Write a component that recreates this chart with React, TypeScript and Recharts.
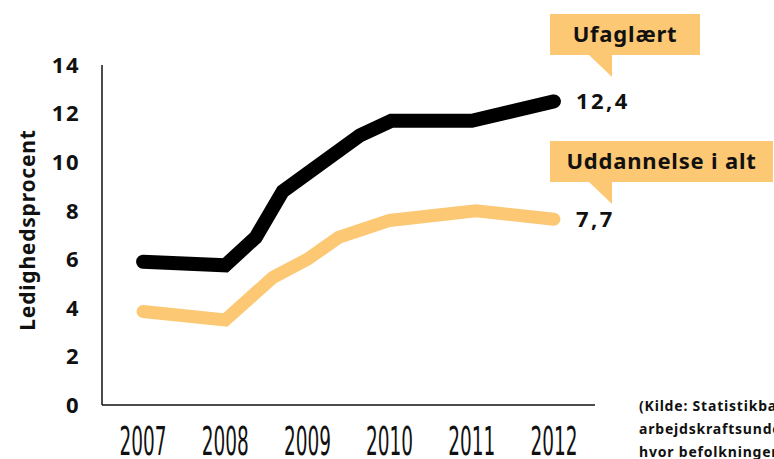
import { CartesianGrid, Customized, Line, LineChart, XAxis, YAxis } from "recharts";

// år (med brøkdele, som aflæst) og ledighedsprocent
const yearTicks = [2007, 2008, 2009, 2010, 2011, 2012];
const yTicks = [0, 2, 4, 6, 8, 10, 12, 14];

const ufaglaertX = [2007, 2008, 2008.37, 2008.7, 2009.64, 2010.02, 2011, 2012];
const ufaglaertY = [5.9, 5.75, 6.9, 8.8, 11.1, 11.7, 11.7, 12.5];

const altX = [2007, 2008, 2008.58, 2009, 2009.38, 2010, 2011.05, 2012];
const altY = [3.85, 3.5, 5.25, 6.0, 6.9, 7.6, 8.0, 7.65];

const ufaglaertLast = "12,4";
const altLast = "7,7";
const sourceLines = [
  "(Kilde: Statistikbanken,",
  "arbejdskraftsundersøgelsen,",
  "hvor befolkningen er 25-64 år)",
];

const ORANGE = "#FCC873";
const FONT = "'Noto Sans', sans-serif";

const toRows = (xs: number[], ys: number[]) => xs.map((x, i) => ({ x, y: ys[i] }));
const ufaglaert = toRows(ufaglaertX, ufaglaertY);
const alt = toRows(altX, altY);

// smal, høj årstalsskrift: strækkes lodret
const YearTick = ({ x, y, payload }: any) => (
  <g transform={`translate(${x},${y + 42}) scale(1,1.5)`}>
    <text
      x={0}
      y={0}
      textAnchor="middle"
      fontFamily="'Liberation Sans Narrow', 'DejaVu Sans Condensed', sans-serif"
      fontSize={26}
      textLength={47}
      lengthAdjust="spacingAndGlyphs"
      fill="#111"
    >
      {payload.value}
    </text>
  </g>
);

const endLabel = (text: string, count: number) => (props: any) => {
  const { x, y, index } = props;
  if (index !== count - 1) return null;
  return (
    <text
      x={x + 22}
      y={y + 8}
      fontFamily={FONT}
      fontWeight={700}
      fontSize={22}
      letterSpacing={2.5}
      fill="#111"
    >
      {text}
    </text>
  );
};

const Callout = ({ x, y, w, text }: { x: number; y: number; w: number; text: string }) => (
  <g>
    <rect x={x} y={y} width={w} height={41} fill={ORANGE} />
    <polygon points={`${x + 38},${y + 40} ${x + 62},${y + 40} ${x + 62},${y + 63}`} fill={ORANGE} />
    <text
      x={x + w / 2}
      y={y + 28}
      textAnchor="middle"
      fontFamily={FONT}
      fontWeight={700}
      fontSize={22}
      letterSpacing={0.8}
      fill="#111"
    >
      {text}
    </text>
  </g>
);

const Extras = () => (
  <g>
    <Callout x={550} y={14} w={150} text="Ufaglært" />
    <Callout x={550} y={141} w={223} text="Uddannelse i alt" />
    <text
      transform="translate(35,230) rotate(-90)"
      textAnchor="middle"
      fontFamily={FONT}
      fontWeight={700}
      fontSize={21}
      letterSpacing={0.8}
      fill="#111"
    >
      Ledighedsprocent
    </text>
    {sourceLines.map((s, i) => (
      <text
        key={i}
        x={639}
        y={411 + i * 23}
        fontFamily={FONT}
        fontWeight={700}
        fontSize={14}
        letterSpacing={0.8}
        fill="#111"
      >
        {s}
      </text>
    ))}
  </g>
);

export default function App() {
  return (
    <div style={{ position: "fixed", left: 0, top: 0, background: "#fff" }}>
      <LineChart width={774} height={459} margin={{ top: 65, right: 179, bottom: 0, left: 42 }}>
        <CartesianGrid horizontal={false} vertical={false} />
        <XAxis
          type="number"
          dataKey="x"
          domain={[2006.5, 2012.5]}
          ticks={yearTicks}
          tick={<YearTick />}
          tickLine={false}
          axisLine={{ stroke: "#111", strokeWidth: 1.5 }}
          height={54}
          allowDuplicatedCategory={false}
        />
        <YAxis
          type="number"
          domain={[0, 14]}
          ticks={yTicks}
          width={60}
          tickLine={false}
          tickSize={0}
          tickMargin={22}
          axisLine={{ stroke: "#111", strokeWidth: 1.5 }}
          tick={{ fontFamily: FONT, fontWeight: 700, fontSize: 22, letterSpacing: 1.5, fill: "#111" }}
        />
        <Line
          data={alt}
          dataKey="y"
          stroke={ORANGE}
          strokeWidth={13}
          strokeLinecap="round"
          dot={false}
          activeDot={false}
          isAnimationActive={false}
          label={endLabel(altLast, alt.length)}
        />
        <Line
          data={ufaglaert}
          dataKey="y"
          stroke="#000"
          strokeWidth={14}
          strokeLinecap="round"
          dot={false}
          activeDot={false}
          isAnimationActive={false}
          label={endLabel(ufaglaertLast, ufaglaert.length)}
        />
        <Customized component={<Extras />} />
      </LineChart>
    </div>
  );
}
